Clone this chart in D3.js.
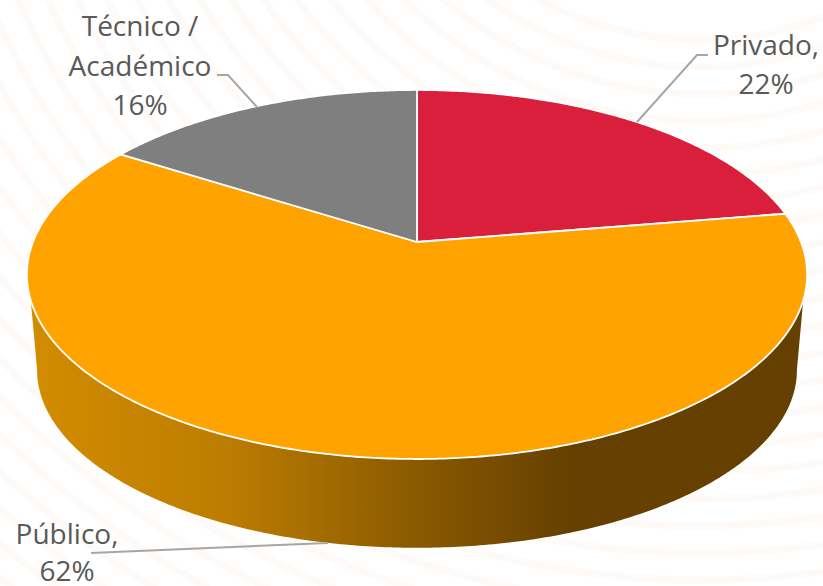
<!DOCTYPE html>
<html>
<head>
<meta charset="utf-8">
<script src="https://cdnjs.cloudflare.com/ajax/libs/d3/7.8.5/d3.min.js"></script>
<style>
  html, body { margin: 0; padding: 0; background: #fff; }
  svg { display: block; }
  .label { font-family: "Open Sans", sans-serif; font-size: 28px; fill: #595959; text-anchor: middle; }
  .leader { fill: none; stroke: #a6a6a6; stroke-width: 2; }
</style>
</head>
<body>
<div id="chart"></div>
<script>
// Data
var categories = ["Privado", "Público", "Técnico / Académico"];
var values = [22.4, 61.6, 16];
var colors = ["#da1f3d", "#ffa300", "#7f7f7f"];

var width = 823, height = 586;
var tau = 2 * Math.PI;

// Perspective view of a flat disc: angle is clockwise from the back of the pie
var topDisc = {cx: 417, cy: 242, r: 384, a: 178.8, c: 0.176};
var bottomDisc = {cx: 417, cy: 338.6, r: 374, a: 172.4, c: 0.176};

function project(disc, angle) {
    var u = Math.sin(angle), v = Math.cos(angle);
    var w = 1 + disc.c * v;
    return [disc.cx + disc.r * u / w, disc.cy - disc.a * v / w];
}

function arcPoints(disc, start, end) {
    var n = Math.max(2, Math.ceil(Math.abs(end - start) / 0.01));
    return d3.range(n + 1).map(function(i) {
        return project(disc, start + (end - start) * i / n);
    });
}

var line = d3.line();

var svg = d3.select("#chart").append("svg")
    .attr("width", width)
    .attr("height", height);

// Faint rings in the slide background
svg.append("g").selectAll("circle")
    .data(d3.range(340, 1240, 27))
    .enter().append("circle")
    .attr("cx", 700)
    .attr("cy", -300)
    .attr("r", function(d) { return d; })
    .attr("fill", "none")
    .attr("stroke", "#fdf0ec")
    .attr("stroke-opacity", 0.35)
    .attr("stroke-width", 7);

// Gradient on the side wall
var grad = svg.append("defs").append("linearGradient")
    .attr("id", "wall")
    .attr("gradientUnits", "userSpaceOnUse")
    .attr("x1", 30).attr("x2", 800)
    .attr("y1", 0).attr("y2", 0);
grad.selectAll("stop")
    .data([[0, "#d28c00"], [0.25, "#bd7d00"], [0.5, "#8a5a00"], [0.7, "#654000"], [1, "#654000"]])
    .enter().append("stop")
    .attr("offset", function(d) { return d[0]; })
    .attr("stop-color", function(d) { return d[1]; });

// Side wall, only the front of the Público slice shows
var wallTop = arcPoints(topDisc, 108 / 360 * tau, 252 / 360 * tau);
var wallBottom = arcPoints(bottomDisc, 260 / 360 * tau, 100 / 360 * tau);
svg.append("path")
    .attr("d", line(wallTop.concat(wallBottom)) + "Z")
    .attr("fill", "url(#wall)");

// Top face
var pie = d3.pie().sort(null);
var slices = pie(values);

svg.append("g").selectAll("path")
    .data(slices)
    .enter().append("path")
    .attr("d", function(d) {
        var pts = arcPoints(topDisc, d.startAngle, d.endAngle);
        return line([[topDisc.cx, topDisc.cy]].concat(pts)) + "Z";
    })
    .attr("fill", function(d, i) { return colors[i]; })
    .attr("stroke", "#fff")
    .attr("stroke-width", 1.8)
    .attr("stroke-linejoin", "round");

// Leader lines
var leaders = [
    [[708, 55], [697, 55], [637, 122]],
    [[91, 553], [328, 543]],
    [[217, 75], [228, 75], [257, 107]]
];
svg.append("g").selectAll("path")
    .data(leaders)
    .enter().append("path")
    .attr("class", "leader")
    .attr("d", function(d) { return line(d); });

// Labels
var labelLines = [
    [categories[0] + ",", d3.format(".0f")(values[0]) + "%"],
    [categories[1] + ",", d3.format(".0f")(values[1]) + "%"],
    ["Técnico /", "Académico", d3.format(".0f")(values[2]) + "%"]
];
var labelX = [766, 67, 140];
var labelY = [55, 544, 36];
var labelStep = [38.5, 37, 39.5];

labelLines.forEach(function(lines, i) {
    svg.append("text")
        .attr("class", "label")
        .selectAll("tspan")
        .data(lines)
        .enter().append("tspan")
        .attr("x", labelX[i])
        .attr("y", function(d, j) { return labelY[i] + j * labelStep[i]; })
        .text(function(d) { return d; });
});
</script>
</body>
</html>
